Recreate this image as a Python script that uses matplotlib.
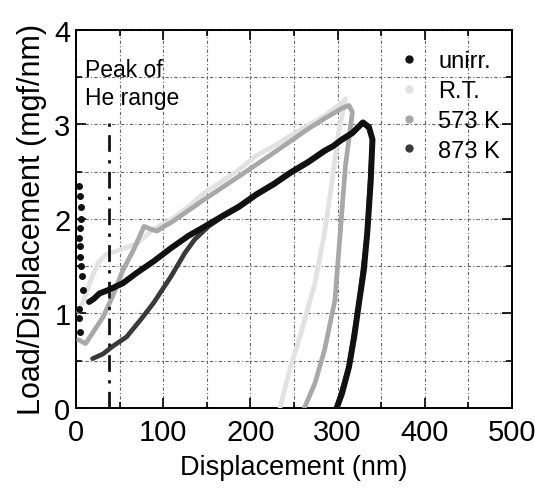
import matplotlib
matplotlib.use("Agg")
import matplotlib.pyplot as plt
from matplotlib.lines import Line2D
from matplotlib.ticker import MultipleLocator

FONT = ['Liberation Sans Narrow', 'Liberation Sans', 'DejaVu Sans']
plt.rcParams['font.family'] = FONT

# ---- data ----
unirr_x = [15, 20, 27, 38, 54, 70, 89, 109, 129, 148, 168, 187, 207, 227, 246, 266, 285, 295, 305, 317, 329, 336,
           340, 338, 334, 330, 325, 319, 313, 305, 299]
unirr_y = [1.12, 1.15, 1.21, 1.25, 1.32, 1.43, 1.55, 1.69, 1.82, 1.92, 2.03, 2.13, 2.26, 2.37, 2.49, 2.60, 2.72, 2.77, 2.84, 2.91, 3.02, 2.97,
           2.84, 2.40, 1.85, 1.45, 1.14, 0.75, 0.43, 0.15, 0.0]
unirr_init_x = [4, 5, 5.5, 6, 5, 4, 4.5, 5, 6, 7, 8, 4, 3, 5]
unirr_init_y = [2.35, 2.24, 2.13, 2.0, 1.90, 1.80, 1.71, 1.60, 1.50, 1.39, 1.25, 1.05, 0.95, 0.80]

rt_x = [3, 9, 17, 25, 34, 50, 70, 89, 109, 129, 148, 168, 187, 207, 227, 246, 266, 285, 305, 309,
        301, 293, 285, 274, 258, 246, 234]
rt_y = [1.02, 1.14, 1.35, 1.53, 1.62, 1.67, 1.74, 1.89, 1.99, 2.13, 2.28, 2.40, 2.52, 2.67, 2.77, 2.88, 2.99, 3.09, 3.23, 3.27,
        2.91, 2.35, 1.85, 1.32, 0.79, 0.43, 0.0]

k573_x = [3, 11, 19, 31, 42, 54, 66, 78, 86, 93, 101, 109, 148, 187, 227, 266, 285, 305, 313,
          317, 309, 303, 297, 285, 274, 262]
k573_y = [0.72, 0.68, 0.79, 0.96, 1.18, 1.46, 1.67, 1.92, 1.89, 1.87, 1.92, 1.96, 2.21, 2.45, 2.70, 2.95, 3.06, 3.17, 3.20,
          3.13, 2.56, 1.85, 1.14, 0.61, 0.26, 0.0]

k873_x = [19, 31, 42, 58, 74, 89, 109, 125, 136, 152, 168, 187, 207, 227, 246, 266, 285, 305, 317, 329, 336,
          340, 334, 325, 313, 299]
k873_y = [0.52, 0.57, 0.65, 0.75, 0.93, 1.11, 1.39, 1.64, 1.78, 1.92, 2.02, 2.12, 2.25, 2.36, 2.48, 2.59, 2.71, 2.83, 2.90, 3.01, 2.96,
          2.84, 1.85, 1.14, 0.43, 0.0]

peak_he_x = 38
peak_he_ymax = 3.05

labels = ['unirr.', 'R.T.', '573 K', '873 K']
colors = ['#111111', '#e2e2e2', '#a8a8a8', '#3a3a3a']

# ---- figure ----
fig = plt.figure(figsize=(5.35, 4.89), dpi=100)
ax = fig.add_axes([0.142, 0.164, 0.815, 0.773])

ax.plot(rt_x, rt_y, color=colors[1], lw=3.4, solid_capstyle='round', zorder=3)
ax.plot(k573_x, k573_y, color=colors[2], lw=3.4, solid_capstyle='round', zorder=4)
ax.plot(k873_x, k873_y, color=colors[3], lw=3.4, solid_capstyle='round', zorder=5)
ax.plot(unirr_x, unirr_y, color=colors[0], lw=4.3, solid_capstyle='round', zorder=6)
ax.scatter(unirr_init_x, unirr_init_y, s=16, color=colors[0], zorder=6)

ax.plot([peak_he_x, peak_he_x], [0, peak_he_ymax], color='#111111', lw=2.0,
        linestyle=(0, (6, 3, 1.2, 3)), zorder=7)
ax.text(10, 3.70, 'Peak of\nHe range', fontsize=16.5, va='top', ha='left',
        linespacing=1.25, family=FONT, zorder=8)

ax.set_xlim(0, 500)
ax.set_ylim(0, 4)
ax.xaxis.set_major_locator(MultipleLocator(100))
ax.xaxis.set_minor_locator(MultipleLocator(50))
ax.yaxis.set_major_locator(MultipleLocator(1))
ax.yaxis.set_minor_locator(MultipleLocator(0.5))
ax.grid(True, which='both', color='#666666', lw=0.8, linestyle=(0, (3, 2, 1, 2)), zorder=1)
ax.tick_params(which='both', direction='in', top=True, right=True, width=1.2)
ax.tick_params(which='major', length=7, labelsize=21, pad=4)
ax.tick_params(axis='x', which='major', pad=7)
ax.tick_params(which='minor', length=4)
for s in ax.spines.values():
    s.set_linewidth(1.4)

ax.set_xlabel('Displacement (nm)', fontsize=19.5, labelpad=6)
ax.set_ylabel('Load/Displacement (mgf/nm)', fontsize=22, labelpad=5)

handles = [Line2D([], [], marker='o', ls='none', color=c, markersize=5) for c in colors]
ax.legend(handles, labels, loc='upper left', frameon=False, fontsize=17,
          handlelength=1.0, handletextpad=0.75, labelspacing=0.33,
          borderpad=0, borderaxespad=0, bbox_to_anchor=(0.736, 0.946))

fig.savefig('out.png', dpi=100)
